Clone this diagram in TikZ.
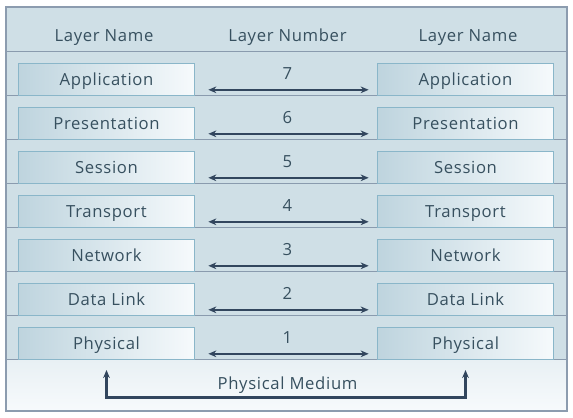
\documentclass[tikz,border=0pt]{standalone}
\usepackage{fontspec}
\setmainfont[LetterSpace=4]{Open Sans}
\usetikzlibrary{arrows.meta,calc}

\definecolor{frameGray}{RGB}{140,156,175}
\definecolor{rowFill}{RGB}{207,223,230}
\definecolor{lineGray}{RGB}{138,155,174}
\definecolor{boxEdge}{RGB}{138,182,201}
\definecolor{boxDark}{RGB}{190,212,222}
\definecolor{boxLight}{RGB}{246,250,252}
\definecolor{textSlate}{RGB}{55,80,95}
\definecolor{arrowNavy}{RGB}{50,70,94}
\definecolor{mediumTop}{RGB}{232,240,244}
\definecolor{mediumBottom}{RGB}{247,250,252}

\tikzset{
  layerbox/.style={draw=boxEdge, line width=0.75pt, left color=boxDark, right color=boxLight,
    minimum width=132.5pt, minimum height=24pt, inner sep=0pt, text=textSlate,
    text depth=0pt, font=\fontsize{12.5}{14}\selectfont},
  headtext/.style={text=textSlate, text depth=0pt, font=\fontsize{12.5}{14}\selectfont},
  numlabel/.style={text=textSlate, font=\fontsize{12.5}{14}\selectfont},
  peerarrow/.style={draw=arrowNavy, line width=1.6pt,
    {Stealth[length=6pt,width=5pt]}-{Stealth[length=6pt,width=5pt]}},
  mediumarrow/.style={draw=arrowNavy, line width=1.6pt,
    {Stealth[length=6pt,width=5pt]}-{Stealth[length=6pt,width=5pt]}}
}

\begin{document}
\begin{tikzpicture}[x=0.75pt,y=0.75pt,yscale=-1,xscale=1]
\useasboundingbox (0,0) rectangle (573,417);

%Shape: Frame 
\fill [rowFill] (6,7) rectangle (567,411);
\shade [top color=mediumTop, bottom color=mediumBottom] (6,359.5) rectangle (567,411);

%Straight Lines: row separators
\foreach \y in {51.5,95.5,139.5,183.5,227.5,271.5,315.5,359.5}
  \draw [lineGray, line width=1pt] (6,\y) -- (567,\y);

\draw [frameGray, line width=1.2pt] (6,7) rectangle (567,411);

% Text Node
\node [headtext] (hleft) at (104,35.5) {Layer Name};
% Text Node
\node [headtext] (hmid) at (287.5,35.5) {Layer Number};
% Text Node
\node [headtext] (hright) at (468,35.5) {Layer Name};

%Layers, both sides
\foreach \num/\name [count=\i from 0] in {7/Application,6/Presentation,5/Session,4/Transport,3/Network,2/Data Link,1/Physical}{
  \node [layerbox] (l\num) at (106.5,{79.5+44*\i}) {\name};
  \node [layerbox] (r\num) at (465.5,{79.5+44*\i}) {\name};
  \node [numlabel] (n\num) at (287.5,{73.5+44*\i}) {\num};
  \draw [peerarrow] ($(l\num.south east)+(13,-6.2)$) -- ($(r\num.south west)+(-8,-6.2)$);
}

%Physical medium
\coordinate (ml) at ($(l1.south)+(0,10)$);
\coordinate (mr) at ($(r1.south)+(0,10)$);
\draw [mediumarrow] (ml) -- ++(0,27.5) -| (mr);
% Text Node
\node [headtext] (med) at (287.5,383) {Physical Medium};

\end{tikzpicture}
\end{document}
